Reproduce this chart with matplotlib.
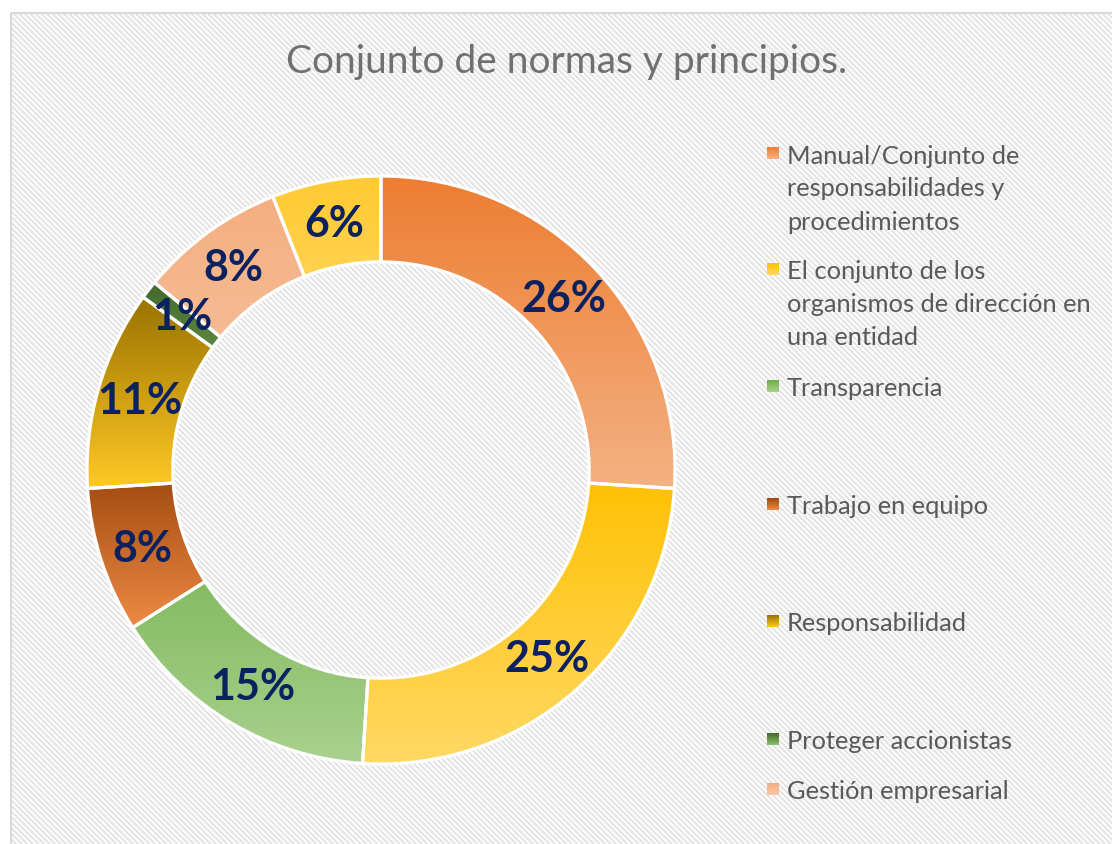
import matplotlib
matplotlib.use("Agg")
import matplotlib.pyplot as plt
import numpy as np
from matplotlib.colors import to_rgb
from matplotlib.patches import Rectangle

plt.rcParams['font.family'] = ['Lato', 'DejaVu Sans']

title = "Conjunto de normas y principios."
legend_labels = [
    "Manual/Conjunto de\nresponsabilidades y\nprocedimientos",
    "El conjunto de los\norganismos de dirección en\nuna entidad",
    "Transparencia",
    "Trabajo en equipo",
    "Responsabilidad",
    "Proteger accionistas",
    "Gestión empresarial",
]
values = [26, 25, 15, 8, 11, 1, 8, 6]
# gradient (top, bottom) per slice
top_colors = ['#ED7D31', '#FFC000', '#70AD47', '#9E480E', '#997300', '#43682B', '#F4AE80', '#FFCA30']
bottom_colors = ['#F4B183', '#FFD966', '#A9D18E', '#EE8A45', '#FFC825', '#8CC168', '#F8C8A8', '#FFE08A']

W, H = 1112, 845
fig = plt.figure(figsize=(W / 100, H / 100), dpi=100)

# background layer in pixel coordinates
bg = fig.add_axes([0, 0, 1, 1], zorder=0)
bg.set_xlim(0, W)
bg.set_ylim(H, 0)
bg.axis('off')
plt.rcParams['hatch.linewidth'] = 1.5
bg.add_patch(Rectangle((11, 14), W, H, facecolor='white', edgecolor='#e4e4e4',
                       hatch='\\' * 6, linewidth=0))
bg.add_patch(Rectangle((11, 14), W, H, fill=False, edgecolor='#d9d9d9', linewidth=1.5))

bg.text(567, 62, title, ha='center', va='center', fontsize=28, color='#707070')


def gradient_image(ax, extent, c_top, c_bot, clip=None, zorder=1):
    t = np.linspace(0, 1, 256)[:, None]
    a, b = np.array(to_rgb(c_top)), np.array(to_rgb(c_bot))
    img = (1 - t)[:, :, None] * a + t[:, :, None] * b
    img = np.repeat(img, 2, axis=1)
    im = ax.imshow(img, extent=extent, origin='upper', interpolation='bilinear',
                   aspect='auto', zorder=zorder)
    if clip is not None:
        im.set_clip_path(clip)
    return im


# legend
legend_y = [154, 270, 387, 505, 622, 740, 790]
line_step = 33
for lab, y, ct, cb in zip(legend_labels, legend_y, top_colors, bottom_colors):
    gradient_image(bg, (767, 779, y + 6, y - 6), ct, cb, zorder=2)
    for k, line in enumerate(lab.split("\n")):
        bg.text(787, y + k * line_step, line, ha='left', va='center_baseline',
                fontsize=18.3, color='#595959', zorder=3)
bg.set_xlim(0, W)
bg.set_ylim(H, 0)

# donut
cx, cy, r = 381, 471, 294
pad = 1.03
ax = fig.add_axes([(cx - r * pad) / W, (H - cy - r * pad) / H,
                   2 * r * pad / W, 2 * r * pad / H], zorder=1)
ax.patch.set_alpha(0)
wedges, _ = ax.pie(values, startangle=90, counterclock=False, radius=1,
                   wedgeprops=dict(width=0.292, edgecolor='white', linewidth=2.3))
ax.set_aspect('equal')
ax.axis('off')

for w, v, ct, cb in zip(wedges, values, top_colors, bottom_colors):
    verts = w.get_path().vertices
    x0, y0 = verts.min(axis=0)
    x1, y1 = verts.max(axis=0)
    w.set_facecolor('none')
    w.set_zorder(3)
    gradient_image(ax, (x0, x1, y0, y1), ct, cb, clip=w, zorder=2)
    mid = np.deg2rad((w.theta1 + w.theta2) / 2)
    rr = 0.854
    ax.text(rr * np.cos(mid), rr * np.sin(mid), f"{v}%", ha='center', va='center',
            fontsize=31, fontweight='bold', color='#0b2160', zorder=4)
ax.set_xlim(-pad, pad)
ax.set_ylim(-pad, pad)

fig.savefig("out.png", dpi=100)
